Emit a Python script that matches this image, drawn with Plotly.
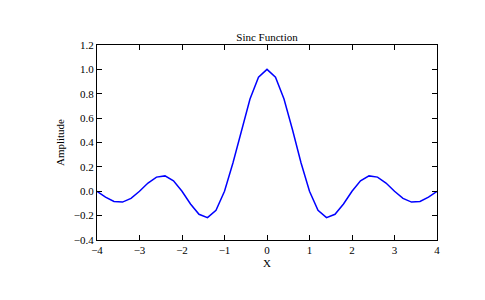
import plotly.graph_objects as go

x_values = [-4.0, -3.8, -3.6, -3.4, -3.2, -3.0, -2.8, -2.6, -2.4, -2.2, -2.0,
            -1.8, -1.6, -1.4, -1.2, -1.0, -0.8, -0.6, -0.4, -0.2, 0.0,
            0.2, 0.4, 0.6, 0.8, 1.0, 1.2, 1.4, 1.6, 1.8, 2.0,
            2.2, 2.4, 2.6, 2.8, 3.0, 3.2, 3.4, 3.6, 3.8, 4.0]
amplitude = [0.0, -0.049, -0.084, -0.089, -0.058, 0.0, 0.067, 0.116, 0.126, 0.085, 0.0,
             -0.104, -0.189, -0.216, -0.156, 0.0, 0.234, 0.505, 0.757, 0.935, 1.0,
             0.935, 0.757, 0.505, 0.234, 0.0, -0.156, -0.216, -0.189, -0.104, 0.0,
             0.085, 0.126, 0.116, 0.067, 0.0, -0.058, -0.089, -0.084, -0.049, 0.0]

font_family = "Liberation Serif, DejaVu Serif, serif"

fig = go.Figure()
fig.add_trace(go.Scatter(x=x_values, y=amplitude, mode="lines",
                         line=dict(color="#0000ff", width=1.5)))

axis_common = dict(showline=True, linecolor="black", linewidth=1, mirror="ticks",
                   ticks="inside", ticklen=5, tickcolor="black", tickwidth=1,
                   showgrid=False, zeroline=False,
                   tickfont=dict(family=font_family, size=11, color="black"))

fig.update_layout(
    width=485, height=300,
    margin=dict(l=97, r=48, t=45, b=60),
    paper_bgcolor="white", plot_bgcolor="white",
    showlegend=False,
    title=dict(text="Sinc Function", x=0.5, xref="paper", y=1, yref="paper",
               yanchor="bottom", pad=dict(b=4),
               font=dict(family=font_family, size=11, color="black")),
    xaxis=dict(range=[-4, 4], dtick=1, tick0=0,
               title=dict(text="X", font=dict(family=font_family, size=11, color="black"), standoff=4),
               **axis_common),
    yaxis=dict(range=[-0.4, 1.2], dtick=0.2, tick0=0, tickformat=".1f",
               title=dict(text="Amplitude", font=dict(family=font_family, size=11, color="black"), standoff=6),
               **axis_common),
)

fig.write_html("out.html")
